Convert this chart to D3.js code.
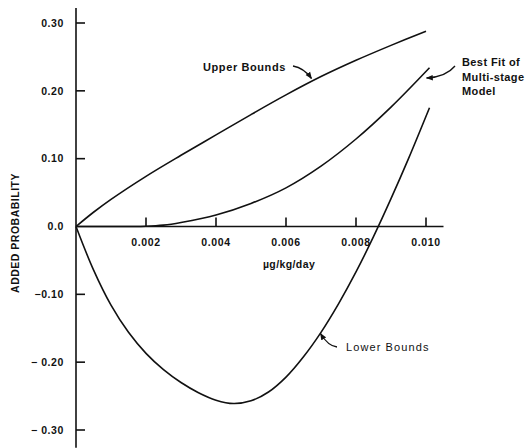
<!DOCTYPE html>
<html><head><meta charset="utf-8">
<script src="https://cdn.jsdelivr.net/npm/d3@7"></script>
<style>
html,body{margin:0;padding:0;background:#fff;}
text{font-family:"Liberation Sans",Arial,sans-serif;fill:#111;}
</style></head>
<body><svg id="c" width="526" height="448"></svg>
<script>
// Data (dose in µg/kg/day, added probability)
const upperX = [0, 0.0005, 0.001, 0.002, 0.003, 0.004, 0.005, 0.006, 0.007, 0.008, 0.009, 0.010];
const upperY = [0, 0.021, 0.040, 0.074, 0.105, 0.135, 0.165, 0.194, 0.221, 0.245, 0.267, 0.288];
const bestX  = [0, 0.0015, 0.002, 0.0025, 0.003, 0.004, 0.005, 0.006, 0.007, 0.008, 0.009, 0.0101];
const bestY  = [0, 0, 0.0003, 0.002, 0.006, 0.017, 0.034, 0.057, 0.089, 0.129, 0.176, 0.234];
const lowerX = [0, 0.0005, 0.001, 0.0015, 0.002, 0.0025, 0.003, 0.0035, 0.004, 0.0045, 0.005, 0.0055, 0.006, 0.0065, 0.007, 0.0075, 0.008, 0.0085, 0.009, 0.0095, 0.0101];
const lowerY = [0, -0.064, -0.116, -0.156, -0.187, -0.211, -0.230, -0.245, -0.256, -0.261, -0.257, -0.244, -0.222, -0.192, -0.156, -0.114, -0.067, -0.015, 0.041, 0.100, 0.175];
const xTicks = [0.002, 0.004, 0.006, 0.008, 0.010];
const xTickLabels = ["0.002", "0.004", "0.006", "0.008", "0.010"];
const yTicks = [0.30, 0.20, 0.10, 0.0, -0.10, -0.20, -0.30];
const yTickLabels = ["0.30", "0.20", "0.10", "0.0", "\u22120.10", "\u2212 0.20", "\u2212 0.30"];
const xTitle = "\u00b5g/kg/day";
const yTitle = "ADDED PROBABILITY";

const svg = d3.select("#c");
const x = d3.scaleLinear().domain([0, 0.010]).range([76, 426]);
const y = d3.scaleLinear().domain([-0.30, 0.30]).range([430, 23]);

// axes
const ax = svg.append("g").attr("stroke", "#111").attr("stroke-width", 1.6).attr("fill", "none");
ax.append("line").attr("x1", x(0)).attr("x2", x(0)).attr("y1", y(0.322)).attr("y2", y(-0.326));
ax.append("line").attr("x1", x(0)).attr("x2", x(0.0105)).attr("y1", y(0)).attr("y2", y(0));
yTicks.filter(d => d !== 0).forEach(d => {
  ax.append("line").attr("x1", x(0)).attr("x2", x(0) + 9).attr("y1", y(d)).attr("y2", y(d));
});
xTicks.forEach(d => {
  ax.append("line").attr("x1", x(d)).attr("x2", x(d)).attr("y1", y(0)).attr("y2", y(0) - 9);
});

// tick labels
svg.append("g").selectAll("text").data(yTicks).join("text")
  .attr("x", 64).attr("y", d => y(d)).attr("dy", "0.36em")
  .attr("text-anchor", "end").attr("font-size", 10.5).attr("font-weight", "bold")
  .attr("letter-spacing", 0.6)
  .text((d, i) => yTickLabels[i]);
svg.append("g").selectAll("text").data(xTicks).join("text")
  .attr("x", d => x(d)).attr("y", y(0) + 19)
  .attr("text-anchor", "middle").attr("font-size", 10.5).attr("font-weight", "bold")
  .attr("letter-spacing", 0.6)
  .text((d, i) => xTickLabels[i]);

svg.append("text").attr("x", 289).attr("y", 268).attr("text-anchor", "middle")
  .attr("font-size", 10.5).attr("font-weight", "bold").attr("letter-spacing", 0.4).text(xTitle);
svg.append("text").attr("transform", "translate(19,233) rotate(-90)").attr("text-anchor", "middle")
  .attr("font-size", 10.5).attr("font-weight", "bold").attr("letter-spacing", 0.5).text(yTitle);

// curves
const line = d3.line().x(d => x(d[0])).y(d => y(d[1])).curve(d3.curveCatmullRom.alpha(0.5));
const series = [[upperX, upperY], [bestX, bestY], [lowerX, lowerY]];
series.forEach(([xs, ys]) => {
  svg.append("path").attr("d", line(xs.map((v, i) => [v, ys[i]])))
    .attr("fill", "none").attr("stroke", "#111").attr("stroke-width", 1.6);
});

// annotations
const defs = svg.append("defs");
defs.append("marker").attr("id", "ah").attr("viewBox", "0 0 10 10").attr("refX", 9).attr("refY", 5)
  .attr("markerWidth", 7).attr("markerHeight", 7).attr("orient", "auto-start-reverse")
  .attr("markerUnits", "userSpaceOnUse")
  .append("path").attr("d", "M0,1 L10,5 L0,9 Z").attr("fill", "#111");

svg.append("text").attr("x", 203).attr("y", 71).attr("font-size", 11).attr("font-weight", "bold")
  .attr("letter-spacing", 0.6).text("Upper Bounds");
svg.append("path").attr("d", "M293,66 Q304,68 311.5,78.5").attr("fill", "none").attr("stroke", "#111")
  .attr("stroke-width", 1.3).attr("marker-end", "url(#ah)");

const bf = svg.append("text").attr("x", 462).attr("font-size", 11).attr("font-weight", "bold").attr("letter-spacing", 0.4);
["Best Fit of", "Multi-stage", "Model"].forEach((t, i) => {
  bf.append("tspan").attr("x", 462).attr("y", 66 + i * 14.5).text(t);
});
svg.append("path").attr("d", "M455,66 Q446,77 426.5,78").attr("fill", "none").attr("stroke", "#111")
  .attr("stroke-width", 1.3).attr("marker-end", "url(#ah)");

svg.append("text").attr("x", 346).attr("y", 351).attr("font-size", 11)
  .attr("letter-spacing", 1.1).text("Lower Bounds");
svg.append("path").attr("d", "M337,347 Q328,346 320.5,333.5").attr("fill", "none").attr("stroke", "#111")
  .attr("stroke-width", 1.3).attr("marker-end", "url(#ah)");
</script></body></html>
